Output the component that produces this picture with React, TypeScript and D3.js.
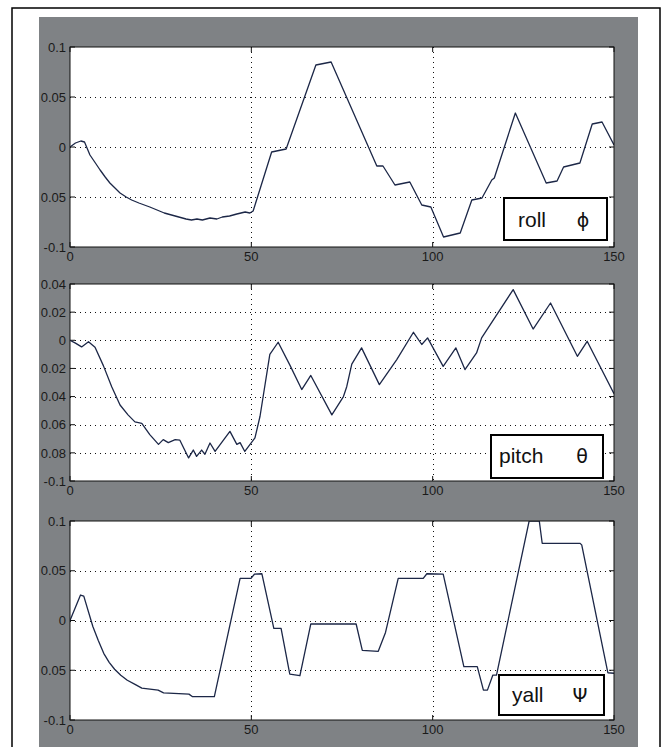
import React from "react";
import * as d3 from "d3";

const rollData: [number, number][] = [
  [0, 0], [1.5, 0.004], [3, 0.006], [4, 0.005], [5.5, -0.008], [7, -0.016], [8.3, -0.023],
  [9.7, -0.03], [11, -0.036], [12.4, -0.041], [13.8, -0.046], [15.5, -0.05], [17, -0.053],
  [19, -0.056], [22, -0.06], [24, -0.063], [26, -0.066], [28, -0.068], [30, -0.07],
  [32, -0.072], [33.5, -0.073], [35, -0.072], [36.5, -0.073], [38.6, -0.071], [40.5, -0.072],
  [42, -0.07], [44, -0.069], [46, -0.067], [48.3, -0.065], [49.6, -0.066], [50.5, -0.064],
  [55.6, -0.005], [59.6, -0.002], [67.8, 0.082], [72, 0.085], [84.6, -0.019], [86.3, -0.019],
  [89.6, -0.038], [93.7, -0.035], [97, -0.058], [99.5, -0.06], [103, -0.09], [107.6, -0.086],
  [110.8, -0.053], [113.6, -0.051], [116.3, -0.033], [117, -0.031], [122.8, 0.034],
  [131.3, -0.036], [134.3, -0.034], [136.1, -0.02], [140.6, -0.016], [144, 0.023],
  [146.7, 0.025], [150, 0.002],
];

const pitchData: [number, number][] = [
  [0, 0], [1.5, -0.002], [3.2, -0.0047], [5.1, -0.001], [6.9, -0.005], [9.2, -0.018],
  [11.5, -0.033], [13.8, -0.046], [16, -0.053], [17.9, -0.058], [19.8, -0.059], [22, -0.067],
  [24.4, -0.074], [25.7, -0.0706], [27.1, -0.0727], [29, -0.0706], [30.3, -0.071],
  [32.7, -0.0836], [34, -0.078], [34.9, -0.0825], [36.3, -0.078], [37.2, -0.081],
  [38.6, -0.073], [40, -0.079], [42, -0.072], [44.1, -0.0647], [46, -0.074], [46.9, -0.0727],
  [48.2, -0.079], [51, -0.0694], [52.4, -0.054], [55.1, -0.01], [57.4, -0.0014], [60.7, -0.018],
  [63.9, -0.035], [66.4, -0.025], [72.2, -0.053], [75.4, -0.04], [76.3, -0.033], [77.7, -0.017],
  [80.4, -0.0054], [85.3, -0.0315], [90.1, -0.0137], [94.7, 0.0057], [97, -0.003],
  [98.6, 0.0017], [102.9, -0.0185], [106.4, -0.0054], [108.9, -0.0208], [112.1, -0.009],
  [113.5, 0.0017], [122.2, 0.036], [127.7, 0.008], [132.5, 0.0265], [139.9, -0.0114],
  [142.6, -0.0007], [150, -0.038],
];

const yallData: [number, number][] = [
  [0, 0], [2.9, 0.0256], [3.8, 0.0245], [6.3, -0.006], [7.8, -0.02], [9.3, -0.033],
  [10.8, -0.042], [12.3, -0.049], [14, -0.055], [15.8, -0.06], [17.8, -0.064], [19.8, -0.068],
  [24.3, -0.07], [25.8, -0.0727], [32.8, -0.074], [33.8, -0.0766], [39.8, -0.0766],
  [46.9, 0.0424], [49.9, 0.0424], [50.9, 0.0467], [52.9, 0.047], [56.2, -0.008], [58.2, -0.008],
  [60.6, -0.054], [63.4, -0.0555], [66.4, -0.0035], [78.9, -0.0035], [80.6, -0.03], [85, -0.031],
  [87, -0.012], [90.5, 0.0424], [97.4, 0.0424], [98.4, 0.047], [102.9, 0.0467], [108.6, -0.0464],
  [112.3, -0.0464], [114, -0.07], [115.1, -0.07], [116.6, -0.0548], [117.6, -0.0548],
  [126.6, 0.1], [129.4, 0.1], [130.2, 0.0776], [140.6, 0.0776], [141.1, 0.076],
  [148.3, -0.0525], [150, -0.053],
];

const xTicks = [0, 50, 100, 150];
const xTickLabels = ["0", "50", "100", "150"];

const rollTicks = [0.1, 0.05, 0, -0.05, -0.1];
const rollTickLabels = ["0.1", "0.05", "0", "0.05", "-0.1"];
const pitchTicks = [0.04, 0.02, 0, -0.02, -0.04, -0.06, -0.08, -0.1];
const pitchTickLabels = ["0.04", "0.02", "0", "0.02", "0.04", "0.06", "0.08", "-0.1"];
const yallTicks = [0.1, 0.05, 0, -0.05, -0.1];
const yallTickLabels = ["0.1", "0.05", "0", "0.05", "-0.1"];

const legendNames = ["roll", "pitch", "yall"];
const legendSymbols = ["ϕ", "θ", "Ψ"];

const FONT = "'Liberation Sans', Arial, sans-serif";
const LEFT = 70;
const RIGHT = 614;

interface PanelProps {
  data: [number, number][];
  top: number;
  bottom: number;
  domain: [number, number];
  ticks: number[];
  labels: string[];
  name: string;
  symbol: string;
  box: { x0: number; x1: number; y0: number; y1: number; tx: number; sx: number; base: number };
}

function Panel({ data, top, bottom, domain, ticks, labels, name, symbol, box }: PanelProps) {
  const x = d3.scaleLinear().domain([0, 150]).range([LEFT, RIGHT]);
  const y = d3.scaleLinear().domain(domain).range([bottom, top]);
  const line = d3
    .line<[number, number]>()
    .x((d) => x(d[0]))
    .y((d) => y(Math.max(domain[0], Math.min(domain[1], d[1]))));
  const clipId = `clip-${name}`;
  const [dMin, dMax] = domain;
  return (
    <g>
      <defs>
        <clipPath id={clipId}>
          <rect x={LEFT} y={top} width={RIGHT - LEFT} height={bottom - top} />
        </clipPath>
      </defs>
      <rect x={LEFT} y={top} width={RIGHT - LEFT} height={bottom - top} fill="#ffffff" />
      {ticks
        .filter((t) => t > dMin + 1e-9 && t < dMax - 1e-9)
        .map((t) => (
          <line
            key={`hg${t}`}
            x1={LEFT}
            x2={RIGHT}
            y1={Math.round(y(t)) + 0.5}
            y2={Math.round(y(t)) + 0.5}
            stroke="#111"
            strokeWidth={1}
            strokeDasharray="1,4"
          />
        ))}
      {xTicks
        .filter((t) => t > 0 && t < 150)
        .map((t) => (
          <line
            key={`vg${t}`}
            x1={Math.round(x(t)) + 0.5}
            x2={Math.round(x(t)) + 0.5}
            y1={top}
            y2={bottom}
            stroke="#111"
            strokeWidth={1}
            strokeDasharray="1,4"
          />
        ))}
      {ticks.map((t) => (
        <g key={`yt${t}`}>
          <line x1={LEFT} x2={LEFT + 5} y1={y(t)} y2={y(t)} stroke="#111" strokeWidth={1} />
          <line x1={RIGHT - 5} x2={RIGHT} y1={y(t)} y2={y(t)} stroke="#111" strokeWidth={1} />
        </g>
      ))}
      {xTicks.map((t) => (
        <g key={`xt${t}`}>
          <line x1={x(t)} x2={x(t)} y1={bottom} y2={bottom - 5} stroke="#111" strokeWidth={1} />
          <line x1={x(t)} x2={x(t)} y1={top} y2={top + 5} stroke="#111" strokeWidth={1} />
        </g>
      ))}
      <path
        d={line(data) || ""}
        fill="none"
        stroke="#1c2747"
        strokeWidth={1.3}
        strokeLinejoin="round"
        clipPath={`url(#${clipId})`}
      />
      <rect
        x={LEFT}
        y={top}
        width={RIGHT - LEFT}
        height={bottom - top}
        fill="none"
        stroke="#111"
        strokeWidth={1}
      />
      {ticks.map((t, i) => (
        <text
          key={`yl${t}`}
          x={LEFT - 4}
          y={y(t)}
          dy="0.36em"
          textAnchor="end"
          fontFamily={FONT}
          fontSize={13}
          fill="#1a1a1a"
        >
          {labels[i]}
        </text>
      ))}
      {xTicks.map((t, i) => (
        <text
          key={`xl${t}`}
          x={x(t)}
          y={bottom + 14}
          textAnchor="middle"
          fontFamily={FONT}
          fontSize={13}
          fill="#1a1a1a"
        >
          {xTickLabels[i]}
        </text>
      ))}
      <rect
        x={box.x0}
        y={box.y0}
        width={box.x1 - box.x0}
        height={box.y1 - box.y0}
        fill="#ffffff"
        stroke="#000"
        strokeWidth={2}
      />
      <text x={box.tx} y={box.base} fontFamily={FONT} fontSize={21} fill="#111">
        {name}
      </text>
      <text
        x={box.sx}
        y={box.base}
        textAnchor="middle"
        fontFamily="'DejaVu Sans', 'Liberation Sans', sans-serif"
        fontSize={19}
        fill="#111"
      >
        {symbol}
      </text>
    </g>
  );
}

export default function App() {
  return (
    <svg
      width={670}
      height={747}
      style={{ position: "absolute", left: 0, top: 0, background: "#ffffff" }}
    >
      <rect x={0} y={0} width={670} height={747} fill="#ffffff" />
      <rect x={12} y={8} width={648} height={760} fill="#ffffff" stroke="#000" strokeWidth={1.5} />
      <rect x={39} y={17} width={599} height={740} fill="#7f8285" />
      <Panel
        data={rollData}
        top={47}
        bottom={247}
        domain={[-0.1, 0.1]}
        ticks={rollTicks}
        labels={rollTickLabels}
        name={legendNames[0]}
        symbol={legendSymbols[0]}
        box={{ x0: 504, x1: 607, y0: 198, y1: 240, tx: 518, sx: 583, base: 227 }}
      />
      <Panel
        data={pitchData}
        top={284}
        bottom={481}
        domain={[-0.1, 0.04]}
        ticks={pitchTicks}
        labels={pitchTickLabels}
        name={legendNames[1]}
        symbol={legendSymbols[1]}
        box={{ x0: 491, x1: 603, y0: 435, y1: 478, tx: 499, sx: 582, base: 463 }}
      />
      <Panel
        data={yallData}
        top={521}
        bottom={720}
        domain={[-0.1, 0.1]}
        ticks={yallTicks}
        labels={yallTickLabels}
        name={legendNames[2]}
        symbol={legendSymbols[2]}
        box={{ x0: 499, x1: 604, y0: 675, y1: 715, tx: 512, sx: 580, base: 702 }}
      />
    </svg>
  );
}
